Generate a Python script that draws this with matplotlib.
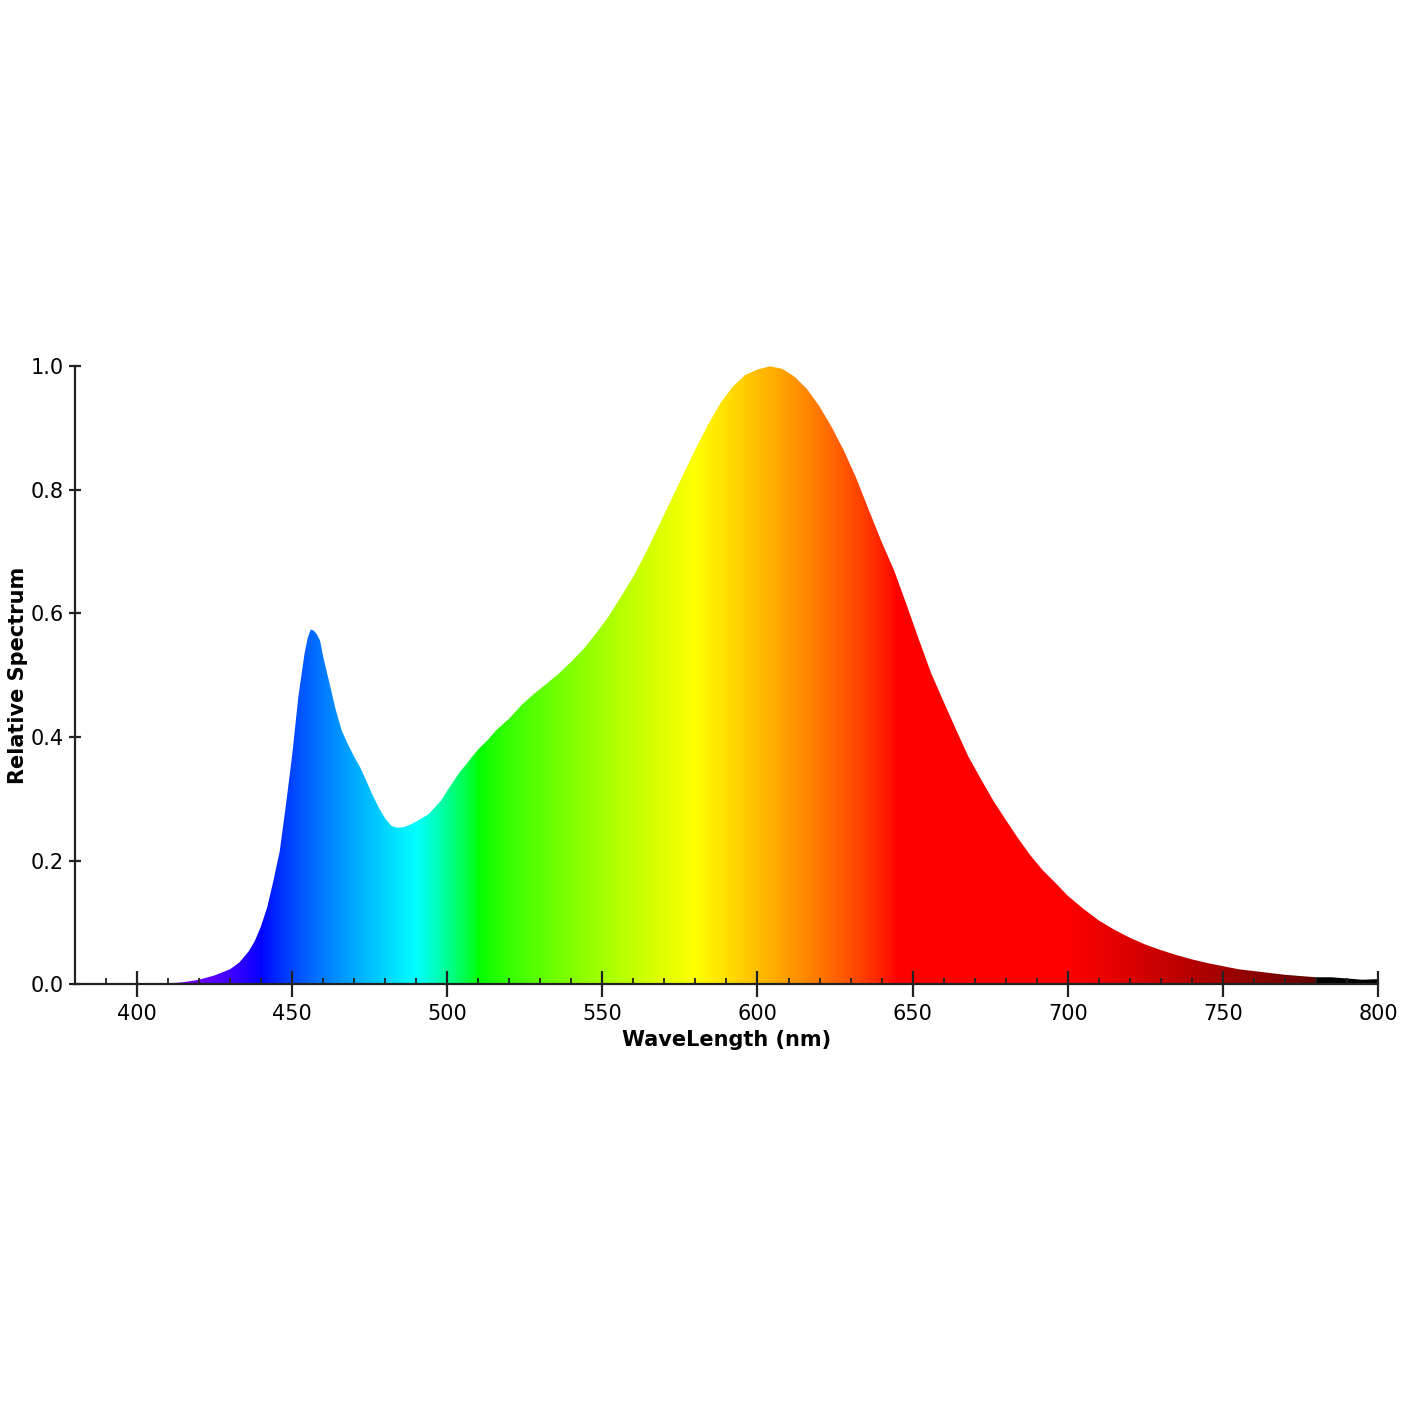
import numpy as np
import matplotlib
matplotlib.use("Agg")
import matplotlib.pyplot as plt
from matplotlib.patches import Polygon
from matplotlib.ticker import MultipleLocator

# spectrum (nm, relative)
wavelength = [380, 385, 390, 395, 400, 405, 410, 415, 420, 425, 430, 433, 436, 438,
              440, 442, 444, 446, 448, 450, 452, 454, 455, 456, 457, 458, 459, 460,
              462, 464, 466, 468, 470, 472, 474, 476, 478, 480, 482, 484, 486, 488,
              490, 492, 494, 496, 498, 500, 502, 504, 506, 508, 510, 513, 516, 520,
              524, 528, 532, 536, 540, 544, 548, 552, 556, 560, 564, 568, 572, 576,
              580, 584, 588, 592, 596, 600, 604, 608, 612, 616, 620, 624, 628, 632,
              636, 640, 644, 648, 652, 656, 660, 664, 668, 672, 676, 680, 684, 688,
              692, 696, 700, 705, 710, 715, 720, 725, 730, 735, 740, 745, 750, 755,
              760, 765, 770, 775, 780, 785, 790, 795, 800]
spectrum = [0.000, 0.000, 0.001, 0.000, 0.001, 0.001, 0.001, 0.003, 0.007, 0.014, 0.024, 0.035, 0.053, 0.070,
            0.094, 0.125, 0.168, 0.215, 0.290, 0.370, 0.465, 0.535, 0.560, 0.574, 0.572, 0.566, 0.556, 0.530,
            0.488, 0.445, 0.410, 0.388, 0.368, 0.350, 0.328, 0.305, 0.285, 0.268, 0.256, 0.253, 0.254, 0.258,
            0.263, 0.269, 0.275, 0.286, 0.297, 0.313, 0.328, 0.343, 0.355, 0.368, 0.380, 0.395, 0.412, 0.430,
            0.452, 0.470, 0.486, 0.503, 0.522, 0.543, 0.568, 0.595, 0.627, 0.660, 0.698, 0.740, 0.782, 0.824,
            0.866, 0.905, 0.940, 0.967, 0.986, 0.995, 1.000, 0.996, 0.983, 0.963, 0.935, 0.901, 0.862, 0.817,
            0.766, 0.716, 0.670, 0.615, 0.558, 0.503, 0.457, 0.412, 0.368, 0.332, 0.297, 0.266, 0.236, 0.208,
            0.184, 0.164, 0.143, 0.122, 0.103, 0.088, 0.075, 0.064, 0.055, 0.047, 0.040, 0.034, 0.029, 0.024,
            0.021, 0.018, 0.015, 0.013, 0.011, 0.011, 0.009, 0.007, 0.008]


def wavelength_to_rgb(wl, gamma=0.8):
    # Dan Bruton's approximation
    r = g = b = 0.0
    if 380 <= wl < 440:
        r, b = -(wl - 440) / 60.0, 1.0
    elif 440 <= wl < 490:
        g, b = (wl - 440) / 50.0, 1.0
    elif 490 <= wl < 510:
        g, b = 1.0, -(wl - 510) / 20.0
    elif 510 <= wl < 580:
        r, g = (wl - 510) / 70.0, 1.0
    elif 580 <= wl < 645:
        r, g = 1.0, -(wl - 645) / 65.0
    elif 645 <= wl <= 780:
        r = 1.0
    if 380 <= wl < 420:
        f = 0.3 + 0.7 * (wl - 380) / 40.0
    elif 420 <= wl <= 700:
        f = 1.0
    elif 700 < wl <= 780:
        f = 0.3 + 0.7 * (780 - wl) / 80.0
    else:
        f = 0.0
    return [(c * f) ** gamma if c > 0 else 0.0 for c in (r, g, b)]


fig = plt.figure(figsize=(14.2, 14.2), dpi=100)
ax = fig.add_axes([0.0528, 0.307, 0.9176, 0.435])

xs = np.linspace(380, 800, 1400)
colors = np.array([[wavelength_to_rgb(x) for x in xs]])
im = ax.imshow(colors, extent=[380, 800, 0, 1], aspect="auto", origin="lower",
               interpolation="bilinear")

verts = np.column_stack([np.r_[wavelength[0], wavelength, wavelength[-1]],
                         np.r_[0, spectrum, 0]])
poly = Polygon(verts, closed=True, facecolor="none", edgecolor="none",
               transform=ax.transData)
ax.add_patch(poly)
im.set_clip_path(poly)

ax.set_xlim(380, 800)
ax.set_ylim(0, 1.0)
ax.spines["top"].set_visible(False)
ax.spines["right"].set_visible(False)
for s in ("left", "bottom"):
    ax.spines[s].set_linewidth(1.6)
    ax.spines[s].set_color("#222222")

ax.xaxis.set_major_locator(MultipleLocator(50))
ax.xaxis.set_minor_locator(MultipleLocator(10))
ax.yaxis.set_major_locator(MultipleLocator(0.2))
ax.tick_params(axis="x", which="major", direction="inout", length=19, width=1.6,
               labelsize=15, pad=5, color="#222222")
ax.tick_params(axis="x", which="minor", direction="in", length=4, width=1.3,
               color="#222222")
ax.tick_params(axis="y", which="major", direction="inout", length=8, width=1.6,
               labelsize=15, pad=4, color="#222222")

ax.set_xlabel("WaveLength (nm)", fontsize=15, fontweight="bold", labelpad=4)
ax.set_ylabel("Relative Spectrum", fontsize=15, fontweight="bold", labelpad=2)

fig.savefig("out.png", dpi=100)
